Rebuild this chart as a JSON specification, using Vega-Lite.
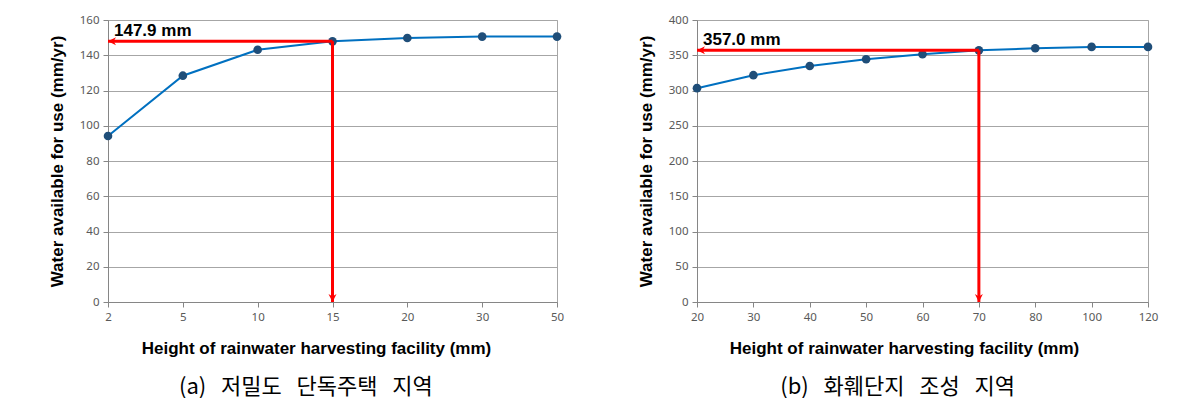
{
  "$schema": "https://vega.github.io/schema/vega-lite/v6.json",
  "background": "white",
  "padding": {"left": 47, "top": 13, "right": 5, "bottom": 0},
  "config": {
    "view": {"stroke": "#a6a6a6", "strokeWidth": 1},
    "axis": {
      "labelFont": "Noto Sans",
      "labelFontSize": 11.5,
      "labelColor": "#595959",
      "titleFont": "Liberation Sans",
      "titleFontSize": 17,
      "titleFontWeight": "bold",
      "titleColor": "#000000",
      "domainColor": "#868686",
      "tickColor": "#868686",
      "tickSize": 5,
      "gridColor": "#a6a6a6",
      "gridWidth": 1
    },
    "title": {
      "font": "Noto Sans CJK KR",
      "fontSize": 22,
      "fontWeight": "normal",
      "color": "#000000",
      "orient": "bottom",
      "anchor": "middle",
      "frame": "bounds",
      "offset": 20
    }
  },
  "spacing": 71,
  "hconcat": [
    {
      "width": 449,
      "height": 282,
      "title": {"text": "(a)\u00a0\u00a0\u00a0저밀도\u00a0\u00a0\u00a0단독주택\u00a0\u00a0\u00a0지역"},
      "encoding": {
        "x": {
          "field": "h", "type": "ordinal",
          "scale": {"type": "point", "padding": 0, "domain": ["2", "5", "10", "15", "20", "30", "50"]},
          "axis": {"labelAngle": 0, "title": "Height of rainwater harvesting facility (mm)", "titlePadding": 18, "labelPadding": 4, "titleX": 208, "titleAlign": "center"}
        },
        "y": {
          "field": "w", "type": "quantitative",
          "scale": {"domain": [0, 160]},
          "axis": {"values": [0, 20, 40, 60, 80, 100, 120, 140, 160], "title": "Water available for use (mm/yr)", "titlePadding": 13, "labelPadding": 4}
        }
      },
      "layer": [
        {
          "data": {"values": [
            {"h": "2", "w": 94.2},
            {"h": "5", "w": 128.4},
            {"h": "10", "w": 143.1},
            {"h": "15", "w": 147.9},
            {"h": "20", "w": 149.8},
            {"h": "30", "w": 150.6},
            {"h": "50", "w": 150.6}
          ]},
          "layer": [
            {"mark": {"type": "line", "color": "#0070C0", "strokeWidth": 2}},
            {"mark": {"type": "point", "filled": true, "color": "#1F4E79", "size": 75, "opacity": 1}}
          ]
        },
        {
          "data": {"values": [{"h": "2", "h2": "15", "w": 147.9}]},
          "mark": {"type": "rule", "color": "#FF0000", "strokeWidth": 3},
          "encoding": {"x2": {"field": "h2"}}
        },
        {
          "data": {"values": [{"h": "15", "w": 147.9, "w2": 0}]},
          "mark": {"type": "rule", "color": "#FF0000", "strokeWidth": 3},
          "encoding": {"y2": {"field": "w2"}}
        },
        {
          "data": {"values": [{"h": "2", "w": 147.9}]},
          "mark": {"type": "point", "filled": true, "color": "#FF0000", "opacity": 1, "size": 64, "shape": "M0,0L2,-1L1.4,0L2,1Z"}
        },
        {
          "data": {"values": [{"h": "15", "w": 0}]},
          "mark": {"type": "point", "filled": true, "color": "#FF0000", "opacity": 1, "size": 64, "shape": "M0,0L-1,-2L0,-1.4L1,-2Z"}
        },
        {
          "data": {"values": [{"h": "2", "w": 147.9, "label": "147.9 mm"}]},
          "mark": {"type": "text", "font": "Liberation Sans", "fontSize": 17, "fontWeight": "bold", "color": "#000000", "align": "left", "baseline": "bottom", "dx": 6, "dy": -1},
          "encoding": {"text": {"field": "label"}}
        }
      ]
    },
    {
      "width": 451,
      "height": 282,
      "title": {"text": "(b)\u00a0\u00a0\u00a0화훼단지\u00a0\u00a0\u00a0조성\u00a0\u00a0\u00a0지역"},
      "encoding": {
        "x": {
          "field": "h", "type": "ordinal",
          "scale": {"type": "point", "padding": 0, "domain": ["20", "30", "40", "50", "60", "70", "80", "100", "120"]},
          "axis": {"labelAngle": 0, "title": "Height of rainwater harvesting facility (mm)", "titlePadding": 18, "labelPadding": 4, "titleX": 207, "titleAlign": "center"}
        },
        "y": {
          "field": "w", "type": "quantitative",
          "scale": {"domain": [0, 400]},
          "axis": {"values": [0, 50, 100, 150, 200, 250, 300, 350, 400], "title": "Water available for use (mm/yr)", "titlePadding": 13, "labelPadding": 4}
        }
      },
      "layer": [
        {
          "data": {"values": [
            {"h": "20", "w": 303.3},
            {"h": "30", "w": 321.7},
            {"h": "40", "w": 334.8},
            {"h": "50", "w": 344.3},
            {"h": "60", "w": 351.4},
            {"h": "70", "w": 357.0},
            {"h": "80", "w": 359.9},
            {"h": "100", "w": 361.8},
            {"h": "120", "w": 361.8}
          ]},
          "layer": [
            {"mark": {"type": "line", "color": "#0070C0", "strokeWidth": 2}},
            {"mark": {"type": "point", "filled": true, "color": "#1F4E79", "size": 75, "opacity": 1}}
          ]
        },
        {
          "data": {"values": [{"h": "20", "h2": "70", "w": 357.0}]},
          "mark": {"type": "rule", "color": "#FF0000", "strokeWidth": 3},
          "encoding": {"x2": {"field": "h2"}}
        },
        {
          "data": {"values": [{"h": "70", "w": 357.0, "w2": 0}]},
          "mark": {"type": "rule", "color": "#FF0000", "strokeWidth": 3},
          "encoding": {"y2": {"field": "w2"}}
        },
        {
          "data": {"values": [{"h": "20", "w": 357.0}]},
          "mark": {"type": "point", "filled": true, "color": "#FF0000", "opacity": 1, "size": 64, "shape": "M0,0L2,-1L1.4,0L2,1Z"}
        },
        {
          "data": {"values": [{"h": "70", "w": 0}]},
          "mark": {"type": "point", "filled": true, "color": "#FF0000", "opacity": 1, "size": 64, "shape": "M0,0L-1,-2L0,-1.4L1,-2Z"}
        },
        {
          "data": {"values": [{"h": "20", "w": 357.0, "label": "357.0 mm"}]},
          "mark": {"type": "text", "font": "Liberation Sans", "fontSize": 17, "fontWeight": "bold", "color": "#000000", "align": "left", "baseline": "bottom", "dx": 6, "dy": -1},
          "encoding": {"text": {"field": "label"}}
        }
      ]
    }
  ]
}
